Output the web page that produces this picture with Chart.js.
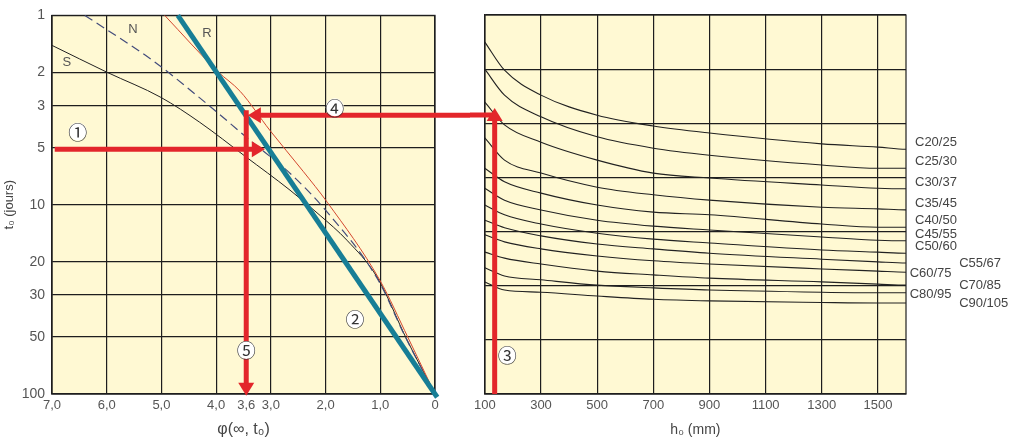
<!DOCTYPE html>
<html>
<head>
<meta charset="utf-8">
<script src="https://cdn.jsdelivr.net/npm/chart.js@4"></script>
<style>
body { margin: 0; background: #fff; }
#wrap { position: relative; width: 1019px; height: 443px; }
#left { position: absolute; left: 0; top: 0; }
#right { position: absolute; left: 470px; top: 0; }
</style>
</head>
<body>
<div id="wrap">
  <canvas id="left" width="470" height="443"></canvas>
  <canvas id="right" width="549" height="443"></canvas>
</div>
<script>
// ---- left panel: phi(inf, t0) against t0 (days) ----
const tTicks = [1, 2, 3, 5, 10, 20, 30, 50, 100];
const phiTicks = [7, 6, 5, 4, 3.45, 3, 2, 1, 0];
const phiTickLabels = ['7,0', '6,0', '5,0', '4,0', '3,6', '3,0', '2,0', '1,0', '0'];

// cement classes, points as [phi, t0]
const cementS = [[7.0, 1.44], [5.99, 2.0], [5.01, 2.71], [4.30, 3.67], [3.47, 5.55], [2.65, 8.38], [2.10, 11.4], [1.61, 15.4], [1.06, 24.1], [0.51, 51.9], [0, 100]];
const cementN = [[6.40, 1], [5.16, 1.73], [4.20, 2.88], [3.38, 4.57], [2.61, 6.99], [1.97, 10.95], [1.04, 25.0], [0.55, 49.4], [0, 100]];
const cementR = [[4.94, 1], [3.97, 1.98], [3.56, 2.52], [3.02, 4.04], [2.41, 6.66], [1.97, 9.70], [1.01, 25.0], [0.49, 50.6], [0, 100]];
const readLine = [[4.70, 1], [-0.04, 104]];

// red reading arrows
const arrow1 = [[6.95, 5.1], [3.22, 5.1]];
const arrow4a = [[-0.9, 3.37], [3.31, 3.37]];
const arrow5 = [[3.45, 3.17], [3.45, 95]];

const leftMarks = [['①', 6.53, 4.1], ['②', 1.46, 40.2], ['④', 1.83, 3.06], ['⑤', 3.45, 58.6]];
const leftLetters = [['S', 6.73, 1.77], ['N', 5.52, 1.19], ['R', 4.17, 1.24]];

// ---- right panel: h0 (mm) against concrete class ----
const h0Ticks = [100, 300, 500, 700, 900, 1100, 1300, 1500];
const h0Values = [100, 170, 300, 500, 700, 900, 1300, 1500, 1600];
const concreteClasses = ['C20/25', 'C25/30', 'C30/37', 'C35/45', 'C40/50', 'C45/55', 'C50/60', 'C55/67', 'C60/75', 'C70/85', 'C80/95', 'C90/105'];
const curveValues = [
  [0.50, 1.02, 1.48, 1.85, 2.05, 2.18, 2.38, 2.44, 2.48],
  [1.00, 1.48, 1.88, 2.25, 2.46, 2.59, 2.77, 2.83, 2.83],
  [1.61, 2.03, 2.35, 2.68, 2.92, 3.01, 3.14, 3.20, 3.21],
  [2.27, 2.68, 2.92, 3.18, 3.32, 3.42, 3.55, 3.58, 3.60],
  [2.83, 3.08, 3.29, 3.51, 3.64, 3.69, 3.86, 3.92, 3.92],
  [3.20, 3.42, 3.60, 3.79, 3.90, 3.97, 4.10, 4.16, 4.17],
  [3.51, 3.69, 3.86, 4.03, 4.14, 4.21, 4.34, 4.38, 4.40],
  [3.79, 3.93, 4.08, 4.23, 4.32, 4.40, 4.51, 4.56, 4.58],
  [4.06, 4.19, 4.32, 4.45, 4.54, 4.60, 4.69, 4.73, 4.75],
  [4.38, 4.49, 4.60, 4.73, 4.80, 4.86, 4.93, 4.97, 4.99],
  [4.67, 4.82, 4.89, 4.99, 5.04, 5.08, 5.12, 5.13, 5.13],
  [4.93, 5.08, 5.12, 5.19, 5.25, 5.28, 5.31, 5.32, 5.32]
];
const leaderEnd = [1676, 1775, 1676, 1775, 1676, 1775, 1676, 1775, 1613, 1775, 1613, 1775];
const labelPlace = ['above', 'above', 'above', 'above', 'above', 'above', 'above', 'after', 'beside', 'after', 'beside', 'after'];

const arrow3 = [[135, 7], [135, 1.83]];
const arrow4b = [[137, 1.847], [0, 1.847]];
const rightMarks = [['③', 180, 6.28]];

Chart.defaults.font.family = '"Liberation Sans", Arial, sans-serif';
Chart.defaults.color = '#555';
const gridColor = '#1e1e1e';
const panelBg = '#FFF9D3';
const red = '#E3262B';

const pts = arr => arr.map(p => ({ x: p[0], y: p[1] }));

function arrowDs(arr, dir) {
  return { data: pts(arr), borderColor: red, backgroundColor: red, borderWidth: 5, clip: false, order: 0, arrow: dir };
}

function curve(arr, color, dash, width) {
  return { data: pts(arr), borderColor: color, borderWidth: width, borderDash: dash,
    cubicInterpolationMode: 'monotone', clip: false, order: 2 };
}

function drawHead(ctx, x, y, dir, color) {
  const L = 13, W = 8, f = 6;
  const d = { right: [1, 0], left: [-1, 0], up: [0, -1], down: [0, 1] }[dir];
  const tx = x + d[0] * f, ty = y + d[1] * f;
  const bx = tx - d[0] * L, by = ty - d[1] * L;
  const nx = -d[1] * W, ny = d[0] * W;
  ctx.fillStyle = color;
  ctx.beginPath();
  ctx.moveTo(tx, ty);
  ctx.lineTo(bx + nx, by + ny);
  ctx.lineTo(bx - nx, by - ny);
  ctx.closePath();
  ctx.fill();
}

function drawCircled(ctx, x, y, txt) {
  ctx.beginPath();
  ctx.arc(x, y, 9, 0, Math.PI * 2);
  ctx.fillStyle = '#fff';
  ctx.fill();
  ctx.fillStyle = '#333';
  ctx.font = '19px "Noto Sans CJK JP"';
  ctx.textAlign = 'center';
  ctx.textBaseline = 'middle';
  ctx.fillText(txt, x, y + 1);
}

function panelPlugin(extra) {
  return {
    id: 'panel',
    beforeDraw(chart) {
      const { ctx, chartArea: a } = chart;
      ctx.save();
      ctx.fillStyle = panelBg;
      ctx.fillRect(a.left, a.top, a.width, a.height);
      ctx.restore();
    },
    beforeDatasetsDraw(chart) {
      const { ctx, chartArea: a } = chart;
      ctx.save();
      ctx.strokeStyle = gridColor;
      ctx.lineWidth = 1.2;
      ctx.strokeRect(a.left, a.top, a.width, a.height);
      ctx.restore();
    },
    afterDatasetsDraw(chart) {
      const ctx = chart.ctx;
      ctx.save();
      chart.data.datasets.forEach((ds, i) => {
        if (!ds.arrow) return;
        const els = chart.getDatasetMeta(i).data;
        const p = els[els.length - 1];
        drawHead(ctx, p.x, p.y, ds.arrow, red);
      });
      extra(chart, ctx);
      ctx.restore();
    }
  };
}

const leftExtra = (chart, ctx) => {
  const { x, y } = chart.scales;
  ctx.font = '13px "Liberation Sans", Arial, sans-serif';
  ctx.fillStyle = '#555';
  ctx.textAlign = 'center';
  ctx.textBaseline = 'middle';
  leftLetters.forEach(l => ctx.fillText(l[0], x.getPixelForValue(l[1]), y.getPixelForValue(l[2])));
  leftMarks.forEach(m => drawCircled(ctx, x.getPixelForValue(m[1]), y.getPixelForValue(m[2]), m[0]));
};

const rightExtra = (chart, ctx) => {
  const { x, y } = chart.scales;
  const a = chart.chartArea;
  ctx.font = '13px "Liberation Sans", Arial, sans-serif';
  ctx.fillStyle = '#444';
  ctx.textAlign = 'left';
  concreteClasses.forEach((name, i) => {
    const vals = curveValues[i];
    const py = y.getPixelForValue(vals[vals.length - 1]);
    const xe = x.getPixelForValue(leaderEnd[i]);
    if (labelPlace[i] === 'above') {
      ctx.textBaseline = 'alphabetic';
      ctx.fillText(name, a.right + 9, py - 3);
    } else if (labelPlace[i] === 'after') {
      ctx.textBaseline = 'middle';
      ctx.fillText(name, xe + 4, py);
    } else {
      ctx.textBaseline = 'middle';
      ctx.fillText(name, xe, py + 1.5);
    }
  });
  rightMarks.forEach(m => drawCircled(ctx, x.getPixelForValue(m[1]), y.getPixelForValue(m[2]), m[0]));
};

new Chart(document.getElementById('left'), {
  type: 'line',
  data: {
    datasets: [
      arrowDs(arrow1, 'right'),
      arrowDs(arrow4a, 'left'),
      arrowDs(arrow5, 'down'),
      { data: pts(readLine), borderColor: '#177E96', borderWidth: 5, clip: false, order: 1 },
      curve(cementR, '#D4472E', [], 1),
      curve(cementN, '#434C7C', [9, 5], 1.2),
      curve(cementS, '#222', [], 1)
    ]
  },
  options: {
    responsive: false,
    animation: false,
    layout: { padding: { left: 0, top: 15, right: 35, bottom: 0 } },
    plugins: { legend: { display: false }, tooltip: { enabled: false } },
    elements: { point: { radius: 0 } },
    scales: {
      x: {
        type: 'linear', reverse: true, min: 0, max: 7,
        afterBuildTicks: s => { s.ticks = phiTicks.map(v => ({ value: v })); },
        afterFit: s => { s.height = 49; },
        ticks: { autoSkip: false, maxRotation: 0, padding: 4, font: { size: 13 }, callback: (v, i) => phiTickLabels[i] },
        grid: { color: c => (c.tick && c.tick.value === 3.45) ? 'rgba(0,0,0,0)' : gridColor, lineWidth: 1.2, drawTicks: false },
        border: { color: gridColor, width: 1.2 },
        title: { display: true, text: 'φ(∞, t₀)', font: { size: 16 }, color: '#444', padding: { top: 0, bottom: 4 } }
      },
      y: {
        type: 'logarithmic', reverse: true, min: 1, max: 100,
        afterBuildTicks: s => { s.ticks = tTicks.map(v => ({ value: v })); },
        afterFit: s => { s.width = 52; },
        ticks: { autoSkip: false, padding: 7, font: { size: 14 }, callback: v => String(v) },
        grid: { color: gridColor, lineWidth: 1.2, drawTicks: false },
        border: { color: gridColor, width: 1.2 },
        title: { display: true, text: 't₀ (jours)', font: { size: 13 }, color: '#444', padding: { top: 2, bottom: 0 } }
      }
    }
  },
  plugins: [panelPlugin(leftExtra)]
});

const rightSets = [arrowDs(arrow3, 'up'), arrowDs(arrow4b, null)];
curveValues.forEach((vals, i) => {
  const arr = h0Values.map((h, j) => [h, vals[j]]);
  arr.push([leaderEnd[i], vals[vals.length - 1]]);
  rightSets.push(curve(arr, '#222', [], 1.1));
});

new Chart(document.getElementById('right'), {
  type: 'line',
  data: { datasets: rightSets },
  options: {
    responsive: false,
    animation: false,
    layout: { padding: { left: 12, top: 15, right: 113, bottom: 0 } },
    plugins: { legend: { display: false }, tooltip: { enabled: false } },
    elements: { point: { radius: 0 } },
    scales: {
      x: {
        type: 'linear', min: 100, max: 1600,
        afterBuildTicks: s => { s.ticks = h0Ticks.map(v => ({ value: v })); },
        afterFit: s => { s.height = 49; },
        ticks: { autoSkip: false, maxRotation: 0, padding: 4, font: { size: 13 }, callback: v => String(v) },
        grid: { color: gridColor, lineWidth: 1.2, drawTicks: false },
        border: { color: gridColor, width: 1.2 },
        title: { display: true, text: 'h₀ (mm)', font: { size: 14 }, color: '#444', padding: { top: 0, bottom: 4 } }
      },
      y: {
        type: 'linear', reverse: true, min: 0, max: 7,
        afterFit: s => { s.width = 0; },
        ticks: { display: false, stepSize: 1 },
        grid: { color: gridColor, lineWidth: 1.2, drawTicks: false },
        border: { color: gridColor, width: 1.2 }
      }
    }
  },
  plugins: [panelPlugin(rightExtra)]
});
</script>
</body>
</html>
